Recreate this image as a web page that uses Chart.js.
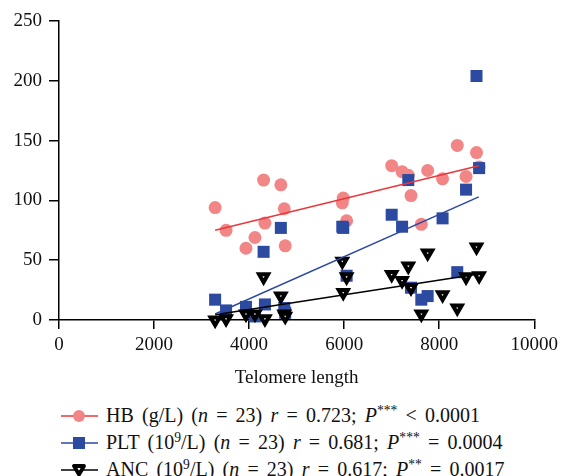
<!DOCTYPE html>
<html>
<head>
<meta charset="utf-8">
<script src="https://cdn.jsdelivr.net/npm/chart.js@4.4.1/dist/chart.umd.min.js"></script>
<style>
  html, body { margin: 0; padding: 0; background: #fff; overflow: hidden; }
  #wrap { position: relative; width: 563px; height: 476px; overflow: hidden; }
  #box { position: absolute; left: 0; top: 0; width: 563px; height: 392px; }
  #legend { position: absolute; left: 61px; top: 402px; font: 20px "Liberation Serif", serif; color: #111; word-spacing: 3.2px; }
  .row { height: 27px; line-height: 27px; white-space: nowrap; display: flex; align-items: center; }
  .row svg { margin-right: 8px; flex: none; }
  sup { font-size: 0.68em; vertical-align: 0.5em; line-height: 0; }
</style>
</head>
<body>
<div id="wrap">
  <div id="box"><canvas id="scatterChart"></canvas></div>
  <div id="legend">
    <div class="row">
      <svg width="37" height="16"><line x1="0" y1="8" x2="37" y2="8" stroke="#e8383d" stroke-width="1.5"/><circle cx="18" cy="8" r="6" fill="#f28585"/></svg>
      <span>HB (g/L) (<i>n</i> = 23) <i>r</i> = 0.723; <i>P</i><sup>***</sup> &lt; 0.0001</span>
    </div>
    <div class="row">
      <svg width="37" height="16"><line x1="0" y1="8" x2="37" y2="8" stroke="#2c4aa0" stroke-width="1.5"/><rect x="12" y="2" width="12" height="12" fill="#2c4aa0"/></svg>
      <span>PLT (10<sup>9</sup>/L) (<i>n</i> = 23) <i>r</i> = 0.681; <i>P</i><sup>***</sup> = 0.0004</span>
    </div>
    <div class="row">
      <svg width="37" height="16"><line x1="0" y1="8" x2="37" y2="8" stroke="#000" stroke-width="1.5"/><polygon points="13,4 23,4 18,12.5" fill="#fff" stroke="#000" stroke-width="3.8" stroke-linejoin="round"/></svg>
      <span>ANC (10<sup>9</sup>/L) (<i>n</i> = 23) <i>r</i> = 0.617; <i>P</i><sup>**</sup> = 0.0017</span>
    </div>
  </div>
</div>
<script>
// telomere length of each patient (same order in all three series)
const telomere = [3285, 3515, 3934, 4123, 4305, 4333, 4668, 4740, 4760, 5961, 5981, 6052,
                  7000, 7219, 7350, 7407, 7624, 7757, 8071, 8380, 8565, 8785, 8840];
const hb  = [94, 75, 60, 69, 117, 81, 113, 93, 62, 98, 102, 83,
             129, 124, 121, 104, 80, 125, 118, 146, 120, 140, 128];
const plt = [17, 8, 11, 3, 57, 13, 77, 10, 6, 78, 77, 37,
             88, 78, 117, 27, 17, 20, 85, 40, 109, 204, 127];
const anc = [0, 1, 5, 5, 36, 1, 20, 5, 3, 49, 23, 36,
             38, 33, 45, 27, 5, 56, 21, 10, 36, 61, 37];

// fitted lines, start and end
const fitX   = [3285, 8833];
const hbFit  = [75, 129];
const pltFit = [5, 103];
const ancFit = [4.4, 38.4];

const xTicks = [0, 2000, 4000, 6000, 8000, 10000];
const yTicks = [0, 50, 100, 150, 200, 250];

const FONT = '"Liberation Serif", serif';

function pts(ys) {
    return ys.map((y, i) => ({ x: (ys.length === 2 ? fitX : telomere)[i], y: y }));
}

const ctx = document.getElementById('scatterChart').getContext('2d');

new Chart(ctx, {
    type: 'scatter',
    data: {
        datasets: [
            {
                label: 'HB fit', type: 'line', data: pts(hbFit),
                borderColor: '#e8383d', borderWidth: 1.5, pointRadius: 0, order: 0
            },
            {
                label: 'PLT fit', type: 'line', data: pts(pltFit),
                borderColor: '#2c4aa0', borderWidth: 1.5, pointRadius: 0, order: 0
            },
            {
                label: 'ANC fit', type: 'line', data: pts(ancFit),
                borderColor: '#000', borderWidth: 1.5, pointRadius: 0, order: 0
            },
            {
                label: 'ANC', data: pts(anc), order: 1, clip: false,
                pointStyle: 'triangle', rotation: 180, pointRadius: 5.2,
                backgroundColor: '#fff', borderColor: '#000', borderWidth: 4
            },
            {
                label: 'PLT', data: pts(plt), order: 2, clip: false,
                pointStyle: 'rect', pointRadius: 8.5,
                backgroundColor: '#2c4aa0', borderWidth: 0
            },
            {
                label: 'HB', data: pts(hb), order: 3, clip: false,
                pointStyle: 'circle', pointRadius: 6.5,
                backgroundColor: '#f28585', borderWidth: 0
            }
        ]
    },
    options: {
        responsive: true,
        maintainAspectRatio: false,
        animation: false,
        layout: { padding: { top: 21, right: 27, bottom: 0, left: 0 } },
        plugins: {
            legend: { display: false },
            tooltip: { enabled: false }
        },
        scales: {
            x: {
                type: 'linear', min: 0, max: 10000,
                afterBuildTicks: s => { s.ticks = xTicks.map(v => ({ value: v })); },
                afterFit: s => { s.height = 72; },
                border: { color: '#000', width: 1.5 },
                grid: { drawOnChartArea: false, drawTicks: true, tickLength: 9, color: '#000', lineWidth: 1.5 },
                ticks: { color: '#111', font: { family: FONT, size: 19 }, padding: 5, maxRotation: 0, callback: v => String(v) },
                title: { display: true, text: 'Telomere length', color: '#111', font: { family: FONT, size: 19 }, padding: { top: 6, bottom: 3 } }
            },
            y: {
                type: 'linear', min: 0, max: 250,
                afterBuildTicks: s => { s.ticks = yTicks.map(v => ({ value: v })); },
                afterFit: s => { s.width = 59; },
                border: { color: '#000', width: 1.5 },
                grid: { drawOnChartArea: false, drawTicks: true, tickLength: 10, color: '#000', lineWidth: 1.5 },
                ticks: { color: '#111', font: { family: FONT, size: 19 }, padding: 7 }
            }
        }
    }
});
</script>
</body>
</html>
